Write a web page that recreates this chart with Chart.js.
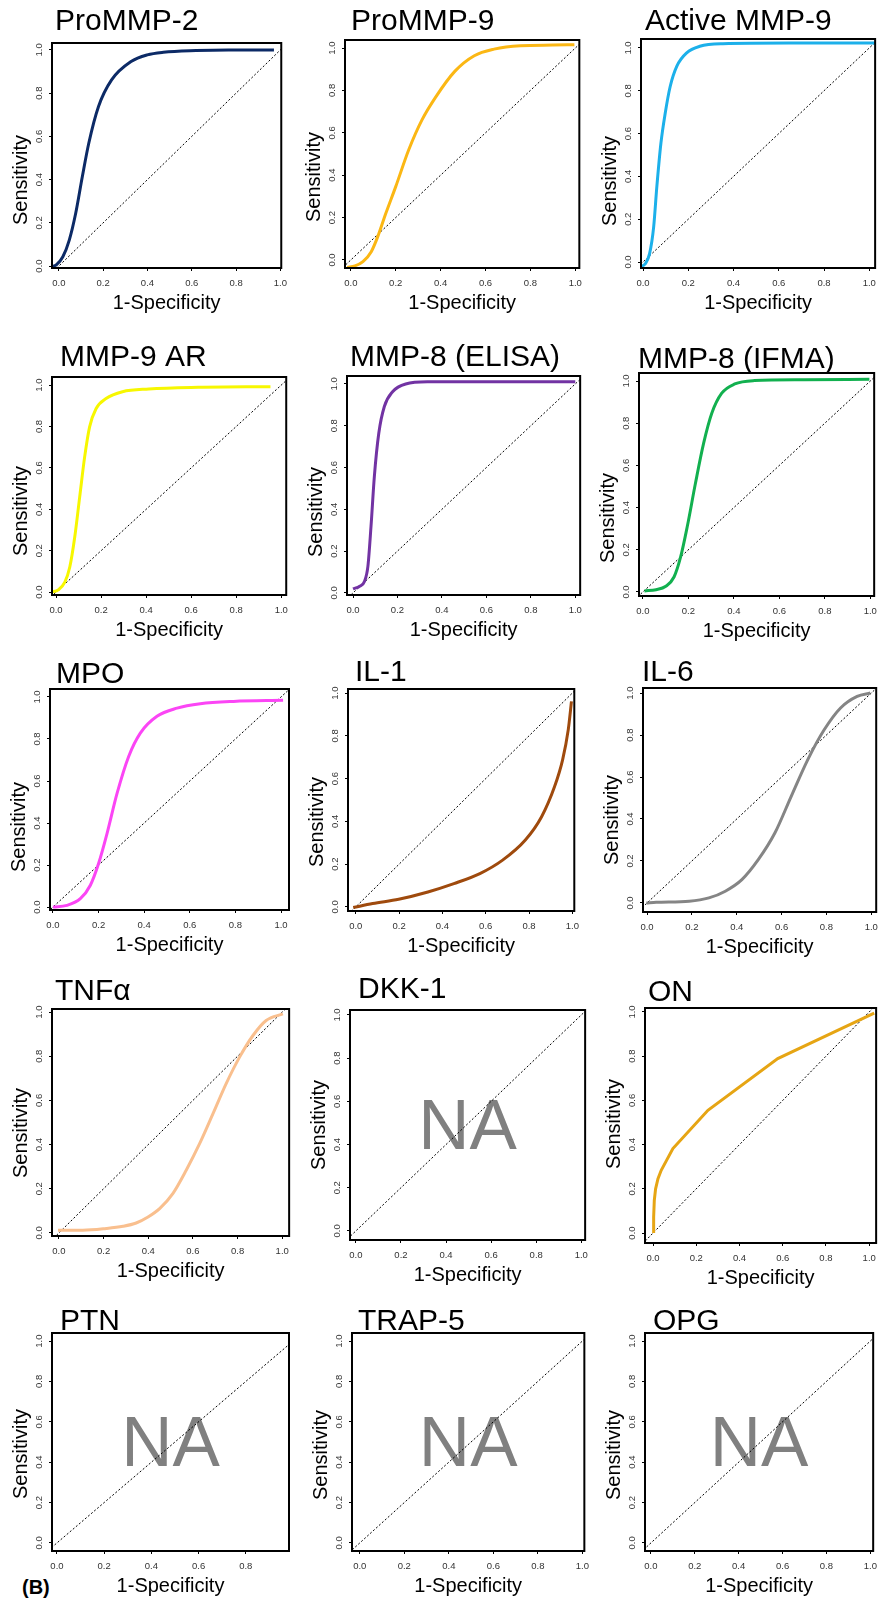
<!DOCTYPE html>
<html>
<head>
<meta charset="utf-8">
<script src="https://cdn.jsdelivr.net/npm/chart.js@4.4.1/dist/chart.umd.min.js"></script>
<style>
  body { margin: 0; background: #fff; }
  #fig { position: relative; width: 881px; height: 1604px; overflow: hidden; background: #fff; }
  #fig canvas { position: absolute; }
  #tag { position: absolute; left: 22px; top: 1576px; font: bold 20px "Liberation Sans", Arial, sans-serif; }
</style>
</head>
<body>
<div id="fig"><div id="tag">(B)</div></div>
<script>
// ROC curves, one small panel per marker (5 rows x 3 cols)
const panelNames = ['ProMMP-2', 'ProMMP-9', 'Active MMP-9', 'MMP-9 AR', 'MMP-8 (ELISA)', 'MMP-8 (IFMA)',
  'MPO', 'IL-1', 'IL-6', 'TNFα', 'DKK-1', 'ON', 'PTN', 'TRAP-5', 'OPG'];
const tickVals = [0, 0.2, 0.4, 0.6, 0.8, 1.0];
const xTitle = '1-Specificity';
const yTitle = 'Sensitivity';
const diagonal = [[-0.1, -0.1], [1.1, 1.1]];

// [1-specificity, sensitivity]
const proMMP2 = [[-0.041,-0.003],[-0.012,0.005],[0.018,0.043],[0.047,0.12],[0.076,0.244],[0.106,0.414],[0.135,0.568],
  [0.179,0.738],[0.238,0.861],[0.326,0.946],[0.399,0.977],[0.472,0.989],[0.619,0.997],[0.765,1.0],[0.971,1.0]];
const proMMP9 = [[-0.016,-0.035],[0.018,-0.028],[0.054,-0.008],[0.091,0.039],[0.12,0.11],[0.156,0.22],[0.2,0.346],
  [0.258,0.52],[0.317,0.661],[0.375,0.764],[0.463,0.89],[0.55,0.964],[0.638,0.995],[0.755,1.011],[0.9,1.014],[0.996,1.016]];
const activeMMP9 = [[-0.012,-0.023],[0.01,-0.008],[0.029,0.039],[0.047,0.164],[0.061,0.352],[0.079,0.555],[0.098,0.695],
  [0.12,0.82],[0.149,0.914],[0.193,0.977],[0.251,1.008],[0.353,1.02],[0.645,1.023],[1.025,1.023]];
const mmp9AR = [[-0.019,0],[0.01,0.011],[0.039,0.048],[0.061,0.121],[0.083,0.266],[0.105,0.46],[0.127,0.653],
  [0.149,0.798],[0.178,0.887],[0.222,0.935],[0.295,0.968],[0.412,0.981],[0.631,0.989],[0.952,0.992]];
const mmp8Elisa = [[0,0.019],[0.03,0.032],[0.052,0.056],[0.067,0.127],[0.081,0.318],[0.096,0.557],[0.116,0.764],
  [0.141,0.892],[0.178,0.963],[0.237,1.0],[0.341,1.01],[0.607,1.011],[1.0,1.011]];
const mmp8Ifma = [[0.007,0.005],[0.058,0.011],[0.101,0.027],[0.137,0.071],[0.166,0.166],[0.195,0.309],[0.231,0.514],
  [0.267,0.704],[0.303,0.847],[0.346,0.941],[0.404,0.986],[0.491,1.002],[0.707,1.006],[0.996,1.008]];
const mpo = [[0,0],[0.061,0.008],[0.12,0.04],[0.164,0.104],[0.2,0.207],[0.237,0.35],[0.281,0.541],[0.332,0.717],
  [0.383,0.828],[0.456,0.908],[0.544,0.947],[0.646,0.968],[0.792,0.979],[1.009,0.984]];
const il1 = [[-0.012,-0.003],[0.078,0.016],[0.198,0.036],[0.333,0.07],[0.453,0.109],[0.573,0.156],[0.678,0.219],
  [0.783,0.313],[0.858,0.422],[0.918,0.563],[0.955,0.688],[0.981,0.828],[0.996,0.961]];
const il6 = [[-0.003,0],[0.041,0.003],[0.188,0.008],[0.276,0.024],[0.349,0.056],[0.423,0.111],[0.496,0.206],
  [0.57,0.333],[0.643,0.508],[0.717,0.683],[0.79,0.825],[0.863,0.929],[0.937,0.984],[0.996,1.0]];
const tnfa = [[-0.004,0.012],[0.107,0.012],[0.212,0.02],[0.287,0.03],[0.346,0.045],[0.399,0.072],[0.451,0.11],
  [0.51,0.178],[0.57,0.284],[0.63,0.404],[0.69,0.54],[0.749,0.676],[0.809,0.796],[0.869,0.894],[0.928,0.962],[1.003,0.992]];
const on = [[0.003,0],[0.003,0.072],[0.006,0.148],[0.012,0.2],[0.023,0.246],[0.038,0.284],[0.092,0.382],
  [0.254,0.555],[0.577,0.789],[1.023,0.995]];

const curves = [proMMP2, proMMP9, activeMMP9, mmp9AR, mmp8Elisa, mmp8Ifma, mpo, il1, il6, tnfa, null, on, null, null, null];
const colors = ['#0c2a66', '#fbb714', '#1cb0ea', '#f7f700', '#7233a3', '#12b04f', '#fb45f5', '#9f4a0d', '#858585',
  '#f9bf8e', null, '#e6a514', null, null, null];

// page position of every plot box, axis reach, title / y-label spots
const boxes = [
  {l:52, t:43, r:288, b:268, x:[-0.031,1.004], y:[-0.009,1.032], tx:57, ty:22, sy:180},
  {l:345, t:40, r:583, b:268, x:[-0.026,1.018], y:[-0.038,1.038], tx:353, ty:22, sy:177},
  {l:641, t:39, r:877, b:268, x:[-0.009,1.026], y:[-0.028,1.042], tx:647, ty:22, sy:181},
  {l:52, t:377, r:289, b:595, x:[-0.018,1.022], y:[-0.014,1.039], tx:62, ty:358, sy:511},
  {l:347, t:376, r:583, b:595, x:[-0.027,1.022], y:[-0.01,1.038], tx:352, ty:358, sy:512},
  {l:639, t:373, r:878, b:596, x:[-0.017,1.017], y:[-0.019,1.038], tx:640, ty:360, sy:518},
  {l:50, t:689, r:289, b:910, x:[-0.013,1.035], y:[-0.014,1.038], tx:58, ty:675, sy:827},
  {l:348, t:689, r:580, b:911, x:[-0.036,1.009], y:[-0.019,1.019], tx:357, ty:673, sy:822},
  {l:643, t:688, r:879, b:912, x:[-0.018,1.022], y:[-0.043,1.024], tx:644, ty:673, sy:820},
  {l:52, t:1009, r:290, b:1236, x:[-0.031,1.031], y:[-0.014,1.014], tx:57, ty:992, sy:1133},
  {l:350, t:1010, r:589, b:1240, x:[-0.026,1.017], y:[-0.042,1.023], tx:360, ty:990, sy:1125},
  {l:645, t:1008, r:877, b:1243, x:[-0.037,1.032], y:[-0.045,1.018], tx:650, ty:993, sy:1124},
  {l:52, t:1333, r:289, b:1551, x:[-0.021,0.983], y:[-0.04,1.04], tx:62, ty:1322, sy:1454},
  {l:352, t:1333, r:590, b:1551, x:[-0.035,1.009], y:[-0.04,1.04], tx:360, ty:1322, sy:1455},
  {l:645, t:1333, r:878, b:1551, x:[-0.027,1.013], y:[-0.04,1.04], tx:655, ty:1322, sy:1455}
];

const FONT = '"Liberation Sans", Arial, sans-serif';
Chart.defaults.font.family = FONT;

const toXY = arr => arr.map(p => ({x: p[0], y: p[1]}));

// box frame, big panel title, rotated y label, "NA" for empty panels
const panelDecor = {
  id: 'panelDecor',
  beforeDatasetsDraw(chart, args, o) {
    if (!o.na) return;
    const a = chart.chartArea, ctx = chart.ctx;
    ctx.save();
    ctx.fillStyle = '#808080';
    ctx.font = '71px ' + FONT;
    ctx.textAlign = 'center';
    ctx.textBaseline = 'middle';
    ctx.fillText('NA', (a.left + a.right) / 2, (a.top + a.bottom) / 2 + 4);
    ctx.restore();
  },
  afterDraw(chart, args, o) {
    const a = chart.chartArea, ctx = chart.ctx;
    ctx.save();
    ctx.lineWidth = 2;
    ctx.strokeStyle = '#000';
    ctx.strokeRect(a.left, a.top, a.right - a.left, a.bottom - a.top);
    ctx.fillStyle = '#000';
    ctx.font = '30px ' + FONT;
    ctx.textAlign = 'left';
    ctx.textBaseline = 'middle';
    ctx.fillText(o.title, o.tx, o.ty);
    ctx.font = '20px ' + FONT;
    ctx.translate(a.left - 31, o.sy);
    ctx.rotate(-Math.PI / 2);
    ctx.textAlign = 'center';
    ctx.fillText(yTitle, 0, 0);
    ctx.restore();
  }
};

const fig = document.getElementById('fig');

function fixTicks(s) {
  s.ticks = tickVals.filter(v => v >= s.min && v <= s.max).map(v => ({value: v}));
}

boxes.forEach((bx, i) => {
  const left = bx.l - 50, top = bx.t - 45;
  const w = bx.r - bx.l + 56, h = bx.b - bx.t + 97;
  const cv = document.createElement('canvas');
  cv.width = w; cv.height = h;
  cv.style.left = left + 'px'; cv.style.top = top + 'px';
  cv.style.width = w + 'px'; cv.style.height = h + 'px';
  fig.appendChild(cv);

  const datasets = [];
  if (curves[i]) {
    datasets.push({
      data: toXY(curves[i]),
      borderColor: colors[i],
      borderWidth: 3,
      pointRadius: 0,
      tension: 0,
      cubicInterpolationMode: panelNames[i] === 'ON' ? 'default' : 'monotone'
    });
  }
  datasets.push({
    data: toXY(diagonal),
    borderColor: '#000',
    borderWidth: 1,
    borderDash: [2, 2],
    pointRadius: 0
  });

  const tickFont = {size: 9.5};
  const grid = {drawOnChartArea: false, drawTicks: true, tickLength: 3, color: '#000', lineWidth: 1};

  new Chart(cv, {
    type: 'line',
    data: {datasets: datasets},
    options: {
      responsive: false,
      animation: false,
      layout: {padding: {left: 0, top: 45, right: 6, bottom: 2}},
      scales: {
        x: {
          type: 'linear', min: bx.x[0], max: bx.x[1],
          afterBuildTicks: fixTicks,
          afterFit: s => { s.height = 50; },
          ticks: {callback: v => v.toFixed(1), font: tickFont, color: '#333', padding: 7, maxRotation: 0, autoSkip: false},
          grid: grid,
          border: {display: false},
          title: {display: true, text: xTitle, font: {size: 20}, color: '#000', padding: {top: 0, bottom: 3}}
        },
        y: {
          type: 'linear', min: bx.y[0], max: bx.y[1],
          afterBuildTicks: fixTicks,
          afterFit: s => { s.width = 50; },
          ticks: {callback: v => v.toFixed(1), font: tickFont, color: '#333', padding: 3.5,
            minRotation: 90, maxRotation: 90, crossAlign: 'center', autoSkip: false},
          grid: grid,
          border: {display: false}
        }
      },
      plugins: {
        legend: {display: false},
        tooltip: {enabled: false},
        title: {display: false},
        panelDecor: {
          title: panelNames[i],
          tx: bx.tx - left - 2,
          ty: bx.ty - top,
          sy: bx.sy - top,
          na: !curves[i]
        }
      }
    },
    plugins: [panelDecor]
  });
});
</script>
</body>
</html>
